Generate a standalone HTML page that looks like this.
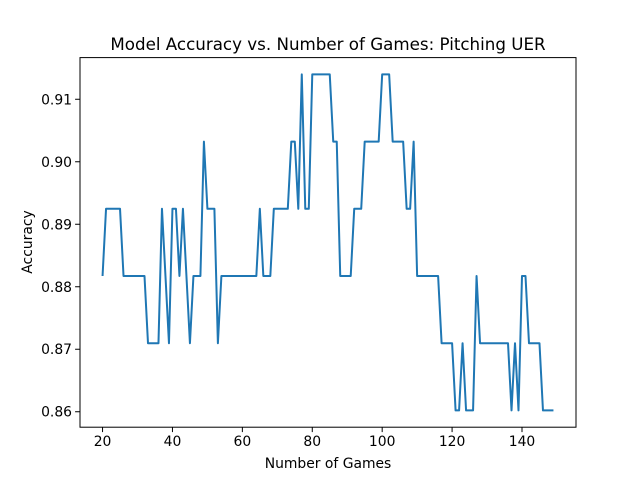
<!DOCTYPE html>
<html><head><meta charset="utf-8"><style>
body{margin:0;background:#fff}
svg text{font-family:"DejaVu Sans","Liberation Sans",sans-serif;fill:#000}
</style></head><body>
<svg id="chart" width="640" height="480" xmlns="http://www.w3.org/2000/svg">
<rect width="640" height="480" fill="#fff"/>
<text x="328" y="50" font-size="16.7" text-anchor="middle">Model Accuracy vs. Number of Games: Pitching UER</text>
<g id="ticks"></g>
<path id="line" fill="none" stroke="#1f77b4" stroke-width="2" stroke-linejoin="round"/>
<rect x="80" y="57.6" width="496" height="369.6" fill="none" stroke="#000" stroke-width="1"/>
<text x="328" y="468" font-size="13.9" text-anchor="middle">Number of Games</text>
<text transform="translate(32,242) rotate(-90)" font-size="13.9" text-anchor="middle">Accuracy</text>
</svg>
<script>
const games = [];
for (let g = 20; g <= 149; g++) games.push(g);
const correctOf93 = [82,83,83,83,83,83,82,82,82,82,82,82,82,81,81,81,81,83,82,81,83,83,82,83,82,81,82,82,82,84,83,83,83,81,82,82,82,82,82,82,82,82,82,82,82,83,82,82,82,83,83,83,83,83,84,84,83,85,83,83,85,85,85,85,85,85,84,84,82,82,82,82,83,83,83,84,84,84,84,84,85,85,85,84,84,84,84,83,83,84,82,82,82,82,82,82,82,81,81,81,81,80,80,81,80,80,80,82,81,81,81,81,81,81,81,81,81,80,81,80,82,82,81,81,81,81,80,80,80,80];
const accuracy = correctOf93.map(c => c / 93);
const xTicks = [20,40,60,80,100,120,140];
const yTicks = [0.86,0.87,0.88,0.89,0.90,0.91];
const yTickLabels = ["0.86","0.87","0.88","0.89","0.90","0.91"];

const L=80,R=576,T=57.6,B=427.2;
const xmin0=Math.min(...games), xmax0=Math.max(...games), xr=xmax0-xmin0;
const xmin=xmin0-0.05*xr, xmax=xmax0+0.05*xr;
const ymin0=Math.min(...accuracy), ymax0=Math.max(...accuracy), yr=ymax0-ymin0;
const ymin=ymin0-0.05*yr, ymax=ymax0+0.05*yr;
const sx=v=>L+(v-xmin)/(xmax-xmin)*(R-L);
const sy=v=>B-(v-ymin)/(ymax-ymin)*(B-T);
const NS="http://www.w3.org/2000/svg";
const g=document.getElementById('ticks');
function mk(tag,attrs){const e=document.createElementNS(NS,tag);for(const k in attrs)e.setAttribute(k,attrs[k]);return e;}
xTicks.forEach(t=>{
  const x=sx(t);
  const l=mk('line',{x1:x,x2:x,y1:B,y2:B+4.9,stroke:'#000','stroke-width':1});
  
  
  g.appendChild(l);
  const tx=mk('text',{x:x,y:B+19,'font-size':13.9,'text-anchor':'middle'});
  
  
  tx.textContent=String(t);g.appendChild(tx);
});
yTicks.forEach((t,i)=>{
  const y=sy(t);
  const l=mk('line',{x1:L-4.9,x2:L,y1:y,y2:y,stroke:'#000','stroke-width':1});
  
  
  g.appendChild(l);
  const tx=mk('text',{x:L-8,y:y+5,'font-size':13.9,'text-anchor':'end'});
  
  
  tx.textContent=yTickLabels[i];g.appendChild(tx);
});
document.getElementById('line').setAttribute('d',games.map((v,i)=>(i?'L':'M')+sx(v).toFixed(2)+' '+sy(accuracy[i]).toFixed(2)).join(' '));
</script>
</body></html>
